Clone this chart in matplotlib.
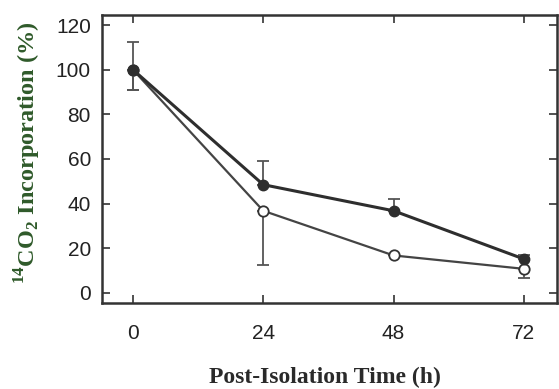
import matplotlib
matplotlib.use("Agg")
import matplotlib.pyplot as plt

plt.rcParams["mathtext.fontset"] = "custom"
plt.rcParams["mathtext.bf"] = "Liberation Serif:bold"
plt.rcParams["mathtext.rm"] = "Liberation Serif:bold"

time_h = [0, 24, 48, 72]
filled_vals = [100, 48.5, 36.8, 15.2]
open_vals = [100, 36.8, 16.8, 10.8]
filled_err_up = [12.5, 10.5, 5.5, 2.0]
filled_err_down = [9.0, 0, 0, 0]
open_err_down = [9.0, 24.2, 0, 4.0]
open_err_up = [0, 0, 0, 0]
xtick_labels = ["0", "24", "48", "72"]
ytick_vals = [0, 20, 40, 60, 80, 100, 120]

fig = plt.figure(figsize=(5.59, 3.89), dpi=100)
ax = fig.add_axes([102/559, 1 - 303/389, (557-102)/559, (303-15)/389])

dark = "#2e2e2e"
ax.errorbar(time_h, open_vals, yerr=[open_err_down, open_err_up], color="#444444",
            lw=1.6, marker="o", ms=7.5, mfc="white", mec="#333333", mew=1.3,
            ecolor="#555555", elinewidth=1.3, capsize=4, capthick=1.3, zorder=2)
ax.errorbar(time_h, filled_vals, yerr=[filled_err_down, filled_err_up], color=dark,
            lw=2.2, marker="o", ms=7.5, mfc=dark, mec=dark,
            ecolor="#555555", elinewidth=1.3, capsize=4, capthick=1.3, zorder=3)

ax.set_xlim(-5.7, 78.1)
ax.set_ylim(-4.5, 124.5)
ax.set_xticks(time_h)
ax.set_xticklabels(xtick_labels)
ax.set_yticks(ytick_vals)
for s in ax.spines.values():
    s.set_linewidth(1.8)
    s.set_color("#333333")
ax.tick_params(direction="in", length=6, width=1.2, color="#333333",
               top=True, right=True, labelsize=15, labelcolor="#222222")
ax.tick_params(axis="y", pad=8)
ax.tick_params(axis="x", pad=15)
for lab in ax.get_xticklabels() + ax.get_yticklabels():
    lab.set_family("Liberation Sans")

ax.set_xlabel("Post-Isolation Time (h)", family="Liberation Serif", fontweight="bold",
              fontsize=17, color="#2a2a2a")
ax.xaxis.set_label_coords(0.491, -0.222)
ax.set_ylabel(r"$^{\mathbf{14}}$CO$_{\mathbf{2}}$ Incorporation (%)", family="Liberation Serif",
              fontweight="bold", fontsize=17.5, color="#2f5a2a")
ax.yaxis.set_label_coords(-0.129, 0.521)

fig.savefig("out.png", dpi=100, facecolor="white")
